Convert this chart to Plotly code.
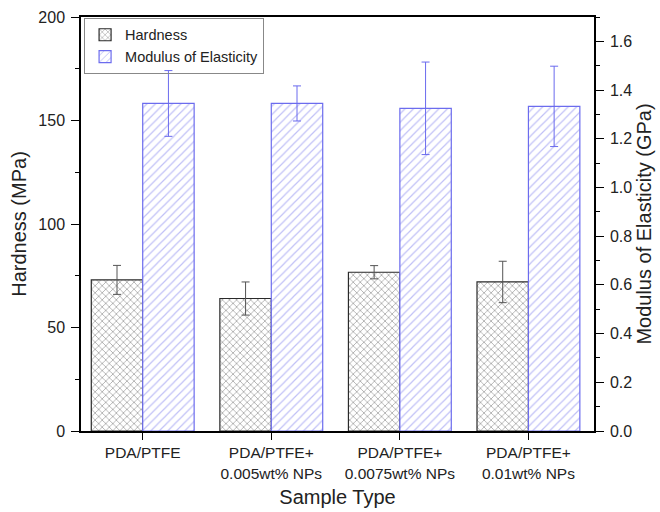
import plotly.graph_objects as go

categories = ["PDA/PTFE", "PDA/PTFE+<br>0.005wt% NPs", "PDA/PTFE+<br>0.0075wt% NPs", "PDA/PTFE+<br>0.01wt% NPs"]
hardness = [73, 64, 76.7, 72]
hardness_err = [7, 8, 3.2, 10]
modulus = [1.345, 1.345, 1.325, 1.333]
modulus_err = [0.135, 0.072, 0.19, 0.165]

FONT = "Liberation Sans, Arial, sans-serif"

fig = go.Figure()
fig.add_trace(go.Bar(
    x=categories, y=hardness, name="Hardness",
    width=0.4, offset=-0.4,
    marker=dict(color="white", line=dict(color="#2a2a2a", width=1.2),
                pattern=dict(shape="x", fgcolor="#555555", bgcolor="white", size=5, solidity=0.3)),
    error_y=dict(type="data", array=hardness_err, color="#555555", thickness=1, width=4),
    yaxis="y",
))
fig.add_trace(go.Bar(
    x=categories, y=modulus, name="Modulus of Elasticity",
    width=0.4, offset=0,
    marker=dict(color="white", line=dict(color="#6c6cee", width=1.2),
                pattern=dict(shape="/", fgcolor="#8282ee", bgcolor="white", size=6, solidity=0.2)),
    error_y=dict(type="data", array=modulus_err, color="#6a6aee", thickness=1, width=4),
    yaxis="y2",
))

fig.update_layout(
    width=660, height=512,
    margin=dict(l=81, r=66, t=17, b=81, autoexpand=False),
    paper_bgcolor="white", plot_bgcolor="white",
    font=dict(family=FONT, size=15.5, color="#222222"),
    showlegend=True,
    legend=dict(x=0.006, y=0.998, xanchor="left", yanchor="top",
                bgcolor="rgba(255,255,255,0)", bordercolor="#888888", borderwidth=1,
                font=dict(size=14.5, color="#222222"), tracegroupgap=0,
                itemwidth=30),
    xaxis=dict(
        type="category", range=[-0.48, 3.51],
        showline=True, linecolor="black", linewidth=1.5, mirror=True,
        ticks="outside", ticklen=7, tickcolor="black",
        showgrid=False, tickfont=dict(size=15.5),
        title=dict(text="Sample Type", font=dict(size=20), standoff=9),
    ),
    yaxis=dict(
        range=[0, 200], dtick=50,
        showline=True, linecolor="black", linewidth=1.5,
        ticks="outside", ticklen=8, tickcolor="black",
        minor=dict(ticks="outside", dtick=25, ticklen=4, tickcolor="black"),
        showgrid=False, zeroline=False, tickfont=dict(size=16),
        ticklabelstandoff=3,
        title=dict(text="Hardness (MPa)", font=dict(size=20), standoff=6),
    ),
    yaxis2=dict(
        range=[0, 1.7], dtick=0.2, tickformat=".1f",
        overlaying="y", side="right",
        showline=True, linecolor="black", linewidth=1.5,
        ticks="outside", ticklen=8, tickcolor="black",
        minor=dict(ticks="outside", dtick=0.1, ticklen=4, tickcolor="black"),
        showgrid=False, zeroline=False, tickfont=dict(size=16),
        ticklabelstandoff=3,
        title=dict(text="Modulus of Elasticity (GPa)", font=dict(size=20), standoff=6),
    ),
)

fig.write_html("out.html")
